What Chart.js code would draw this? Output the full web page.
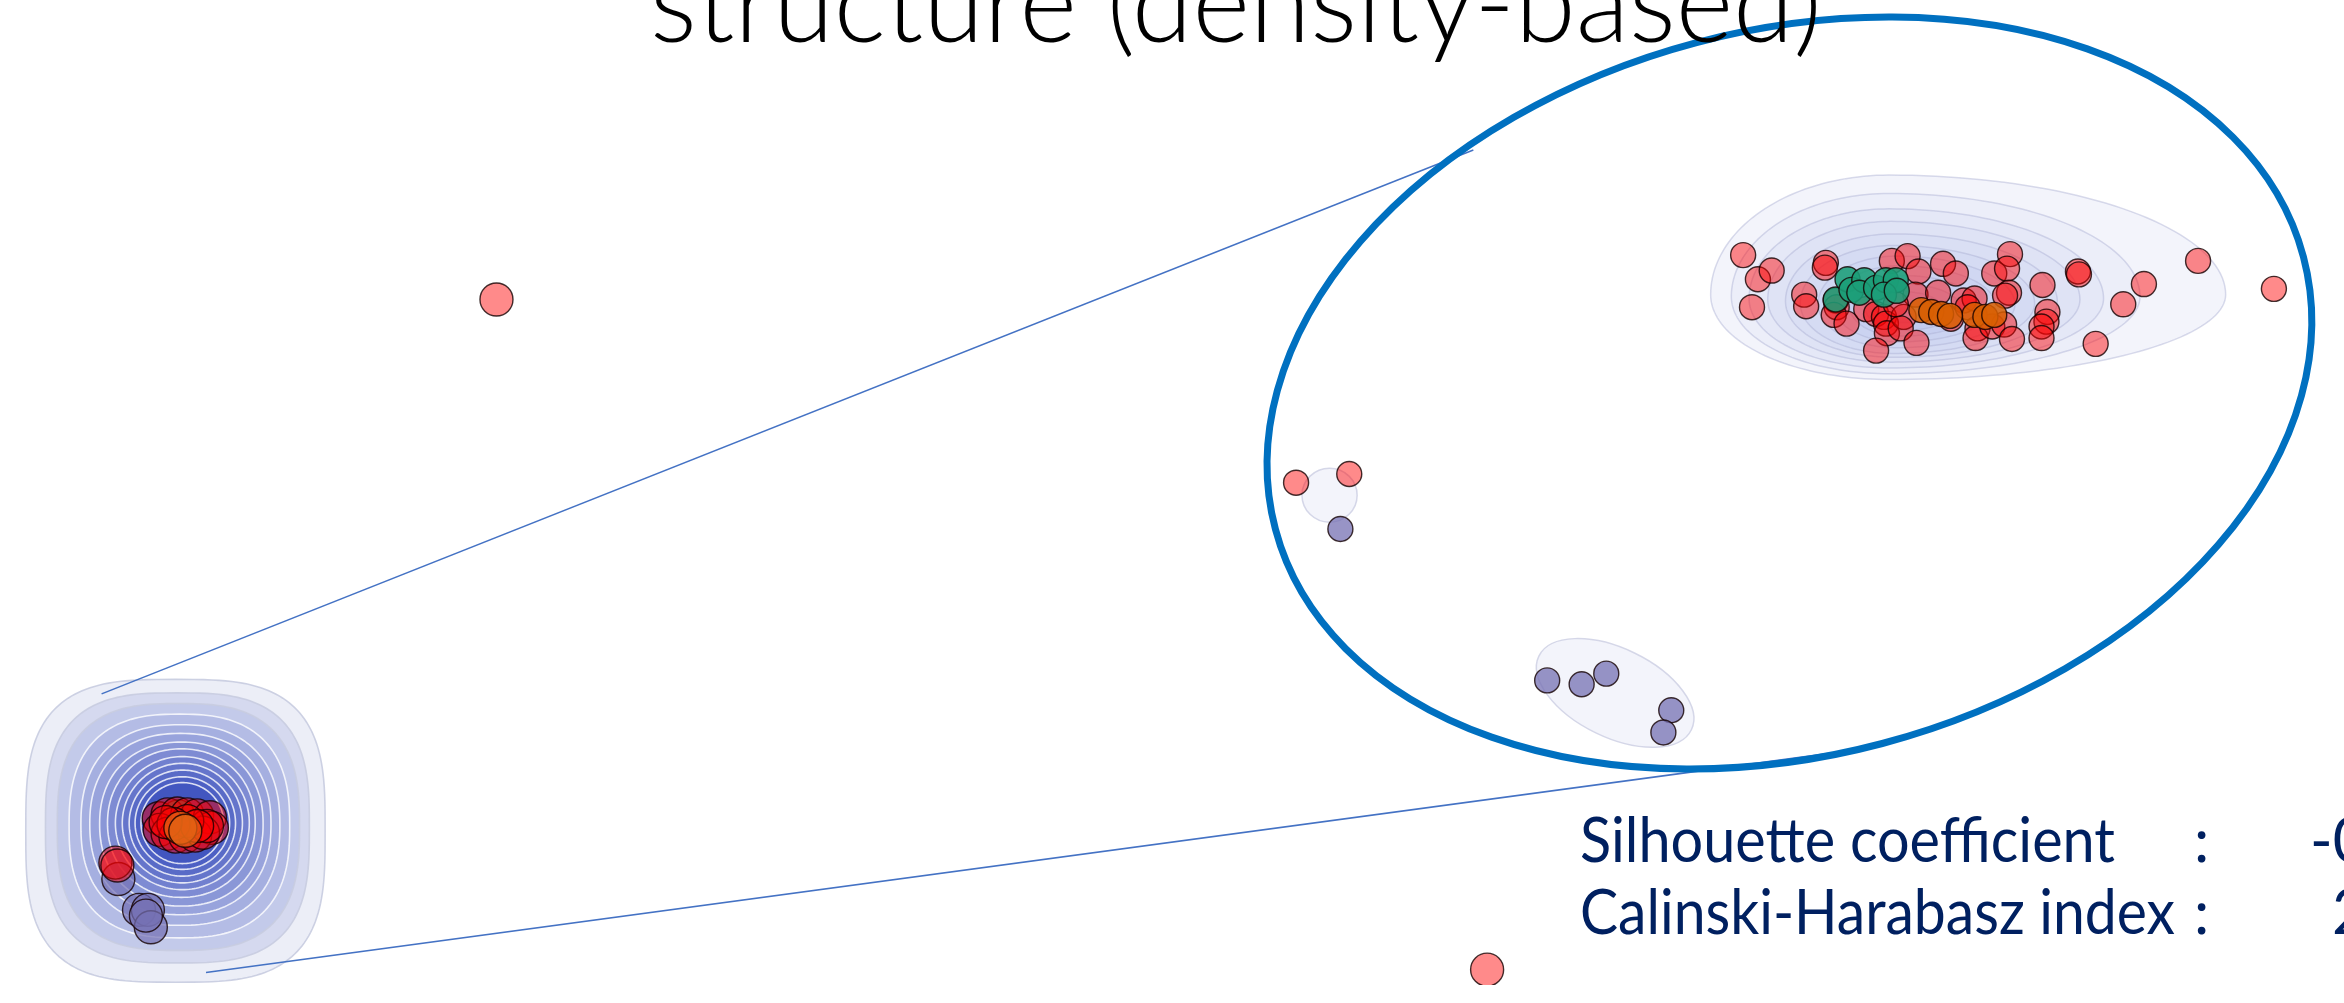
<!DOCTYPE html>
<html>
<head>
<meta charset="utf-8">
<script src="https://cdn.jsdelivr.net/npm/chart.js@4.4.1/dist/chart.umd.min.js"></script>
<style>
html, body { margin: 0; padding: 0; background: #fff; overflow: hidden; }
#wrap { position: relative; width: 2344px; height: 1003px; overflow: hidden; }
#c { position: absolute; left: 0; top: 0; }
.txt { position: absolute; left: 0; top: 0; white-space: nowrap; transform-origin: 0 0; line-height: 1; }
.title { font-family: Lato, "Open Sans", sans-serif; font-weight: 300; font-size: 112px; color: #000; }
.score { font-family: Lato, "Open Sans", sans-serif; font-size: 61px; color: #002060; }
</style>
</head>
<body>
<div id="wrap">
  <canvas id="c" width="2344" height="1003"></canvas>
  <div class="txt title" id="title">structure (density-based)</div>
  <div class="txt score" id="sLab">Silhouette coefficient</div>
  <div class="txt score" id="sCol">:</div>
  <div class="txt score" id="sVal">-0</div>
  <div class="txt score" id="cLab">Calinski-Harabasz index</div>
  <div class="txt score" id="cCol">:</div>
  <div class="txt score" id="cVal">2</div>
</div>
<script>
// ---- data (embedding coordinates) ----
// zoomed view: the big cluster
const redMain = [[1752,246],[1767,271],[1781,262],[1761,300],[1836,254],[1835,259],[1814,287],[1816,299],
  [1846,293],[1847,300],[1844,308],[1857,317],[1903,252],[1919,247],[1930,263],[1877,302],[1887,307],
  [1895,310],[1897,317],[1898,327],[1887,345],[1915,310],[1912,322],[1928,337],[1927,287],[1907,297],
  [1950,285],[1963,312],[1955,255],[1968,265],[1976,293],[1987,291],[1980,300],[1990,322],[1988,332],
  [2005,320],[2017,318],[2025,333],[2007,265],[2023,245],[2020,260],[2022,285],[2018,288],[2056,277],
  [2061,305],[2060,315],[2055,320],[2055,332],[2092,263],[2093,266],[2138,297],[2159,276],[2214,252],
  [2110,338],[2291,281],[1298,482],[1352,473]];
const greenMain = [[1846,292],[1858,271],[1862,282],[1875,272],[1870,285],[1887,280],[1897,272],[1907,272],[1895,287],[1908,283]];
const orangeMain = [[1933,303],[1943,305],[1953,307],[1987,308],[1998,310],[2007,308],[1962,309]];
const purpleMain = [[1553,687],[1588,691],[1613,680],[1679,718],[1671,741],[1343,530]];
// overview (bottom left) and stray points
const redInset = [[143,830],[152,826],[162,825],[172,826],[182,827],[195,829],[197,840],[144,842],[152,846],
  [160,849],[170,849],[180,848],[188,845],[192,838],[172,833],[158,836],[182,838],[150,834],[99,876],[101,879],
  [486,292],[1492,987]];
const orangeInset = [[165,840],[170,843]];
const greenInset = [[163,828]];
const purpleInset = [[102,893],[123,925],[132,925],[135,943],[130,931]];

// density levels: [cx, cy, rxLeft, rxRight, ryTop, ryBottom]
const mainLevels = [
  [1900,287,181,342,124,88],[1900,289,160,255,107,80],[1900,291,142,218,93,72],
  [1902,292,125,192,81,65],[1905,294,110,166,70,58],[1905,296,95,143,60,52],
  [1908,297,80,120,50,45],[1910,298,66,98,41,38],[1912,299,52,78,32,31],
  [1914,300,38,58,24,24],[1915,300,25,38,16,16]];
// overview levels: [cx, cy, rx, ry, squareness]
const insetLevels = [
  [160,843,152,157,3.2],[162,840,134,140,3.0],[163,839,123,128,2.8],[164,838,112,116,2.6],
  [165,837,101,104,2.4],[165,836,92,94,2.3],[166,836,83,85,2.2],[166,835,75,77,2.1],
  [167,835,68,69,2],[167,835,61,62,2],[167,835,54,55,2],[167,835,48,48,2],[167,835,42,42,2]];
// small blobs: [cx, cy, rx, ry, angle]
const blobs = [[1332,495,28,28,0],[1622,700,86,46,0.45]];
// zoom ellipse [cx, cy, a, b, angle] and connector lines
const zoomEllipse = [1799,389,540,376,-0.259];
const connectors = [[[85,701],[1478,137]],[[191,990],[1838,763]]];

const toXY = a => a.map(p => ({x: p[0], y: p[1]}));

function superPath(ctx, cx, cy, rxL, rxR, ryT, ryB, n) {
  ctx.beginPath();
  for (let i = 0; i <= 180; i++) {
    const t = i / 180 * Math.PI * 2;
    const c = Math.cos(t), s = Math.sin(t);
    const rx = c >= 0 ? rxR : rxL, ry = s >= 0 ? ryB : ryT;
    const x = cx + rx * Math.sign(c) * Math.pow(Math.abs(c), 2 / n);
    const y = cy + ry * Math.sign(s) * Math.pow(Math.abs(s), 2 / n);
    if (i === 0) ctx.moveTo(x, y); else ctx.lineTo(x, y);
  }
  ctx.closePath();
}

const decor = {
  id: 'decor',
  beforeDatasetsDraw(chart) {
    const ctx = chart.ctx, xs = chart.scales.x, ys = chart.scales.y;
    const px = v => xs.getPixelForValue(v), py = v => ys.getPixelForValue(v);
    const dx = r => Math.abs(px(r) - px(0)), dy = r => Math.abs(py(r) - py(0));
    ctx.save();
    // overview density
    const N = insetLevels.length;
    insetLevels.forEach((l, i) => {
      const t = Math.pow(i / (N - 1), 0.8);
      const r = Math.round(236 + (66 - 236) * t), g = Math.round(238 + (86 - 238) * t), b = Math.round(247 + (192 - 247) * t);
      superPath(ctx, px(l[0]), py(l[1]), dx(l[2]), dx(l[2]), dy(l[3]), dy(l[3]), l[4]);
      ctx.fillStyle = `rgb(${r},${g},${b})`;
      ctx.fill();
      ctx.lineWidth = 1.6;
      ctx.strokeStyle = i < 3 ? 'rgba(200,204,224,0.9)' : 'rgba(255,255,255,0.8)';
      ctx.stroke();
    });
    // zoomed density
    mainLevels.forEach((l, i) => {
      superPath(ctx, px(l[0]), py(l[1]), dx(l[2]), dx(l[3]), dy(l[4]), dy(l[5]), 2);
      ctx.fillStyle = i === 0 ? 'rgba(240,241,250,0.8)' : 'rgba(95,110,210,0.042)';
      ctx.fill();
      ctx.lineWidth = 1.5;
      ctx.strokeStyle = 'rgba(170,175,210,0.45)';
      ctx.stroke();
    });
    blobs.forEach(b => {
      ctx.beginPath();
      ctx.ellipse(px(b[0]), py(b[1]), dx(b[2]), dy(b[3]), b[4], 0, Math.PI * 2);
      ctx.fillStyle = 'rgba(240,241,250,0.8)';
      ctx.fill();
      ctx.lineWidth = 1.5;
      ctx.strokeStyle = 'rgba(208,211,230,0.9)';
      ctx.stroke();
    });
    ctx.restore();
  },
  afterDatasetsDraw(chart) {
    const ctx = chart.ctx, xs = chart.scales.x, ys = chart.scales.y;
    const px = v => xs.getPixelForValue(v), py = v => ys.getPixelForValue(v);
    ctx.save();
    ctx.strokeStyle = '#4472C4';
    ctx.lineWidth = 1.6;
    connectors.forEach(c => {
      ctx.beginPath();
      ctx.moveTo(px(c[0][0]), py(c[0][1]));
      ctx.lineTo(px(c[1][0]), py(c[1][1]));
      ctx.stroke();
    });
    const e = zoomEllipse;
    ctx.beginPath();
    ctx.ellipse(px(e[0]), py(e[1]), Math.abs(px(e[2]) - px(0)), Math.abs(py(e[3]) - py(0)), e[4], 0, Math.PI * 2);
    ctx.strokeStyle = '#0070C0';
    ctx.lineWidth = 7;
    ctx.stroke();
    ctx.restore();
  }
};

const edge = 'rgba(20,0,0,0.8)';
function ds(pts, fill, r, order) {
  return { data: toXY(pts), backgroundColor: fill, borderColor: edge, borderWidth: 1.4,
           pointRadius: r, pointHoverRadius: r, order: order };
}

new Chart(document.getElementById('c'), {
  type: 'scatter',
  data: {
    datasets: [
      ds(redMain, 'rgba(255,0,0,0.46)', 12.5, 8),
      ds(purpleMain, 'rgba(117,112,179,0.75)', 12.5, 7),
      ds(greenMain, 'rgba(27,158,119,0.88)', 12.5, 6),
      ds(orangeMain, 'rgba(217,95,2,0.85)', 12.5, 5),
      ds(greenInset, 'rgba(27,158,119,0.88)', 16.5, 4),
      ds(purpleInset, 'rgba(117,112,179,0.7)', 16.5, 3),
      ds(redInset, 'rgba(255,0,0,0.46)', 16.5, 2),
      ds(orangeInset, 'rgba(225,100,20,0.75)', 16.5, 1)
    ]
  },
  options: {
    responsive: false,
    devicePixelRatio: 1,
    animation: false,
    layout: { padding: 0 },
    plugins: { legend: { display: false }, tooltip: { enabled: false } },
    scales: {
      x: { type: 'linear', min: 0, max: 2344, display: false },
      y: { type: 'linear', min: 0, max: 1003, reverse: true, display: false }
    }
  },
  plugins: [decor]
});

// text: left x, baseline y, optional target width
function place(id, x, base, w) {
  const el = document.getElementById(id);
  const m = document.createElement('span');
  m.style.display = 'inline-block';
  m.style.width = '0';
  m.style.height = '0';
  el.appendChild(m);
  const off = m.offsetTop;
  const sw = el.getBoundingClientRect().width;
  el.style.left = x + 'px';
  el.style.top = (base - off) + 'px';
  if (w) el.style.transform = 'scaleX(' + (w / sw) + ')';
}
place('title', 650, 42, 1172);
place('sLab', 1580, 862, 535);
place('sCol', 2194, 862);
place('sVal', 2310, 862);
place('cLab', 1580, 934, 595);
place('cCol', 2194, 934);
place('cVal', 2332, 934);
</script>
</body>
</html>
